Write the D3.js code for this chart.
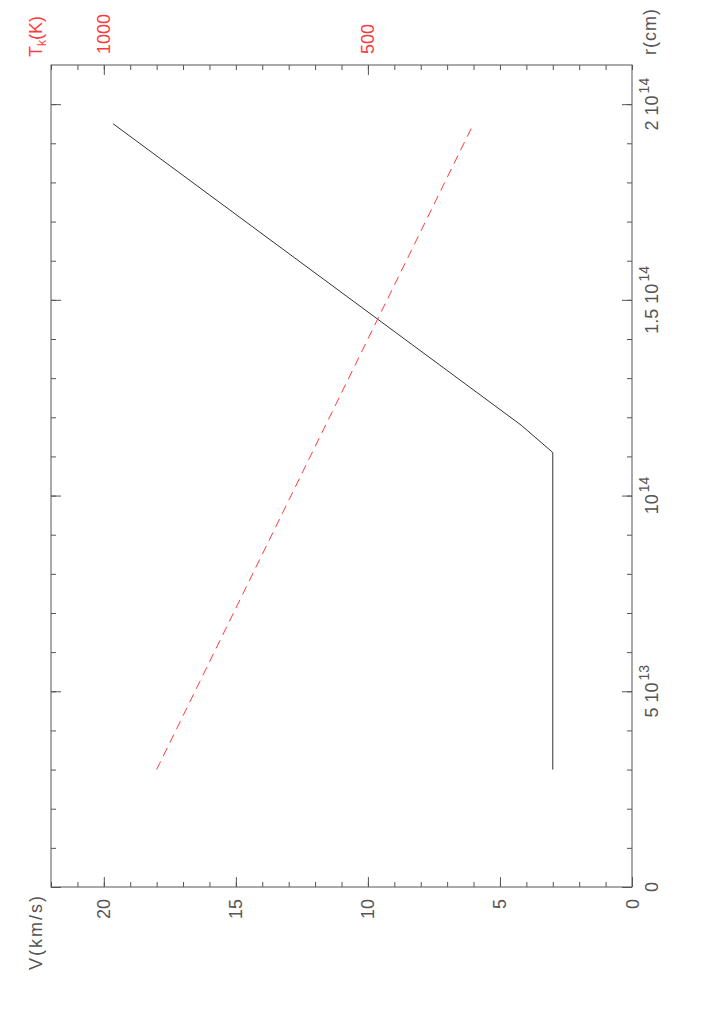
<!DOCTYPE html>
<html>
<head>
<meta charset="utf-8">
<script src="https://cdn.jsdelivr.net/npm/d3@7"></script>
<style>
  html, body { margin: 0; padding: 0; background: #fff; }
  svg { display: block; }
  text { font-family: "Liberation Sans", Arial, sans-serif; }
</style>
</head>
<body>
<svg id="chart" width="717" height="1025"></svg>
<script>
// ---- data ----
const rVel = [3e13, 1.11e14, 1.18e14, 1.95e14];     // r (cm)
const vVel = [3, 3, 4.2, 19.65];                      // V (km/s)
const rTemp = [3e13, 1.95e14];                        // r (cm)
const tTemp = [900, 300];                             // Tk (K)

const vTicks = [0, 5, 10, 15, 20];
const vTickLabels = ["0", "5", "10", "15", "20"];
const tTicks = [500, 1000];
const tTickLabels = ["500", "1000"];
const rTicks = [0, 5e13, 1e14, 1.5e14, 2e14];
const rTickMantissa = ["0", "5 10", "10", "1.5 10", "2 10"];
const rTickExp = ["", "13", "14", "14", "14"];

// ---- layout ----
const svg = d3.select("#chart");
const L = 51, R = 632, T = 65, B = 887;
const frameColor = "#555";
const red = "#ff3b3b";
const textGray = "#555";
const fs = 18;

const xV = d3.scaleLinear().domain([22, 0]).range([L, R]);
const xT = d3.scaleLinear().domain([1100, 0]).range([L, R]);
const yR = d3.scaleLinear().domain([0, 2.1e14]).range([B, T]);

// frame
svg.append("rect").attr("x", L).attr("y", T).attr("width", R - L).attr("height", B - T)
  .attr("fill", "none").attr("stroke", frameColor).attr("stroke-width", 1);

function styleAxis(g) {
  g.select(".domain").remove();
  g.selectAll("line").attr("stroke", frameColor).attr("stroke-width", 1);
  g.selectAll("text").remove();
}

// bottom V axis (ticks inward)
svg.append("g").attr("transform", `translate(0,${B})`)
  .call(d3.axisBottom(xV).tickValues(d3.range(0, 23, 1)).tickSizeInner(-5).tickSizeOuter(0)).call(styleAxis);
svg.append("g").attr("transform", `translate(0,${B})`)
  .call(d3.axisBottom(xV).tickValues(vTicks).tickSizeInner(-10).tickSizeOuter(0)).call(styleAxis);

// top Tk axis
svg.append("g").attr("transform", `translate(0,${T})`)
  .call(d3.axisTop(xT).tickValues(d3.range(0, 1101, 50)).tickSizeInner(-5).tickSizeOuter(0)).call(styleAxis);
svg.append("g").attr("transform", `translate(0,${T})`)
  .call(d3.axisTop(xT).tickValues(tTicks).tickSizeInner(-10).tickSizeOuter(0)).call(styleAxis);

// right r axis
const rMinor = d3.range(0, 21).map(i => i * 1e13);
svg.append("g").attr("transform", `translate(${R},0)`)
  .call(d3.axisRight(yR).tickValues(rMinor).tickSizeInner(-5).tickSizeOuter(0)).call(styleAxis);
svg.append("g").attr("transform", `translate(${R},0)`)
  .call(d3.axisRight(yR).tickValues(rTicks).tickSizeInner(-10).tickSizeOuter(0)).call(styleAxis);
// left r axis
svg.append("g").attr("transform", `translate(${L},0)`)
  .call(d3.axisLeft(yR).tickValues(rMinor).tickSizeInner(-5).tickSizeOuter(0)).call(styleAxis);
svg.append("g").attr("transform", `translate(${L},0)`)
  .call(d3.axisLeft(yR).tickValues(rTicks).tickSizeInner(-10).tickSizeOuter(0)).call(styleAxis);

// ---- tick labels (rotated -90) ----
function rotText(x, y, anchor, color) {
  return svg.append("text")
    .attr("transform", `translate(${x},${y}) rotate(-90)`)
    .attr("text-anchor", anchor)
    .attr("fill", color)
    .attr("font-size", fs);
}

vTicks.forEach((v, i) => {
  rotText(xV(v) + 6.5, 899, "end", textGray).text(vTickLabels[i]);
});
tTicks.forEach((t, i) => {
  rotText(xT(t) + 6.5, 54, "start", red).text(tTickLabels[i]);
});
rTicks.forEach((r, i) => {
  const t = rotText(658, yR(r), "middle", textGray);
  t.append("tspan").text(rTickMantissa[i]);
  if (rTickExp[i]) {
    t.append("tspan").attr("dy", -9).attr("dx", 2).attr("font-size", 14).text(rTickExp[i]);
  }
});

// axis titles
rotText(42, 970, "start", textGray).attr("letter-spacing", 2).text("V(km/s)");
const tk = rotText(42, 57, "start", red);
tk.append("tspan").text("T");
tk.append("tspan").attr("dy", 4).attr("font-size", 12).text("k");
tk.append("tspan").attr("dy", -4).text("(K)");
rotText(656, 55, "start", textGray).attr("letter-spacing", 1).text("r(cm)");

// ---- data lines ----
const velPts = rVel.map((r, i) => [xV(vVel[i]), yR(r)]);
svg.append("path").attr("d", d3.line()(velPts))
  .attr("fill", "none").attr("stroke", "#333").attr("stroke-width", 1);

const tempPts = rTemp.map((r, i) => [xT(tTemp[i]), yR(r)]);
svg.append("path").attr("d", d3.line()(tempPts))
  .attr("fill", "none").attr("stroke", red).attr("stroke-width", 1)
  .attr("stroke-dasharray", "9,6");
</script>
</body>
</html>
